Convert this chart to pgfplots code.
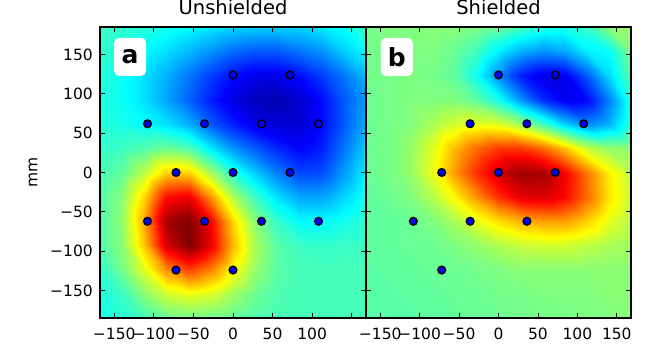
\documentclass[border=0pt]{standalone}
\usepackage{fontspec}
\setmainfont{DejaVu Sans}
\usepackage{pgfplots}
\pgfplotsset{compat=1.18}

\pgfplotsset{
  panel/.style={
    height=291pt, scale only axis,
    xmin=-168, xmax=168, ymin=-185, ymax=185,
    xtick={-150,-100,...,150}, ytick={-150,-100,...,150},
    tick align=inside, xtick pos=both, ytick pos=both,
    major tick length=5pt,
    tick style={black, line width=0.8pt},
    axis line style={black, line width=1.2pt},
    axis on top,
    colormap/jet,
    point meta min=0, point meta max=1,
    tick label style={font=\fontsize{15.5}{17}\selectfont},
    xticklabel style={inner sep=0pt, yshift=-10pt},
    yticklabel style={inner sep=0pt, xshift=-7pt},
    title style={font=\fontsize{19.5}{21}\selectfont, inner sep=0pt,
      anchor=base, at={(0.5,1)}, yshift=6.5pt},
  },
  field/.style={surf, shader=interp, mesh/cols=13, point meta=explicit},
  sensor/.style={only marks, mark=*, mark size=3.9pt,
    mark options={fill=blue, draw=black, line width=1.3pt}},
}
\tikzset{
  tag/.style={fill=white, rounded corners=5pt, minimum width=32pt,
    minimum height=38pt, inner sep=0pt,
    font=\bfseries\fontsize{25}{25}\selectfont},
}

\begin{document}
\begin{tikzpicture}
\path[use as bounding box] (0,0) rectangle (664pt,354pt);

% unshielded
\begin{axis}[panel, width=266pt, at={(100pt,36pt)}, anchor=south west,
  point meta min=-0.04,
  title={Unshielded},
  xticklabels={−150,−100,−50,0,50,100,{}},
  yticklabels={−150,−100,−50,0,50,100,150},
  ylabel={mm},
  ylabel style={font=\fontsize{15.5}{17}\selectfont,
    at={(axis description cs:-0.252,0.5)}, anchor=center},
]
\addplot[field] coordinates {
(-168,-185)[0.37] (-140,-185)[0.39] (-112,-185)[0.42] (-84,-185)[0.46] (-56,-185)[0.47] (-28,-185)[0.46] (0,-185)[0.45] (28,-185)[0.43] (56,-185)[0.42] (84,-185)[0.42] (112,-185)[0.42] (140,-185)[0.42] (168,-185)[0.42]
(-168,-154)[0.38] (-140,-154)[0.41] (-112,-154)[0.49] (-84,-154)[0.56] (-56,-154)[0.59] (-28,-154)[0.57] (0,-154)[0.51] (28,-154)[0.46] (56,-154)[0.43] (84,-154)[0.42] (112,-154)[0.42] (140,-154)[0.42] (168,-154)[0.42]
(-168,-123)[0.40] (-140,-123)[0.47] (-112,-123)[0.58] (-84,-123)[0.73] (-56,-123)[0.81] (-28,-123)[0.74] (0,-123)[0.61] (28,-123)[0.50] (56,-123)[0.44] (84,-123)[0.42] (112,-123)[0.42] (140,-123)[0.42] (168,-123)[0.42]
(-168,-92)[0.43] (-140,-92)[0.49] (-112,-92)[0.67] (-84,-92)[0.91] (-56,-92)[1.00] (-28,-92)[0.89] (0,-92)[0.68] (28,-92)[0.52] (56,-92)[0.44] (84,-92)[0.41] (112,-92)[0.40] (140,-92)[0.41] (168,-92)[0.41]
(-168,-62)[0.43] (-140,-62)[0.50] (-112,-62)[0.70] (-84,-62)[0.96] (-56,-62)[1.00] (-28,-62)[0.87] (0,-62)[0.65] (28,-62)[0.49] (56,-62)[0.40] (84,-62)[0.35] (112,-62)[0.35] (140,-62)[0.37] (168,-62)[0.40]
(-168,-31)[0.43] (-140,-31)[0.49] (-112,-31)[0.65] (-84,-31)[0.86] (-56,-31)[0.89] (-28,-31)[0.72] (0,-31)[0.53] (28,-31)[0.41] (56,-31)[0.32] (84,-31)[0.26] (112,-31)[0.26] (140,-31)[0.31] (168,-31)[0.37]
(-168,0)[0.42] (-140,0)[0.45] (-112,0)[0.54] (-84,0)[0.66] (-56,0)[0.66] (-28,0)[0.52] (0,0)[0.39] (28,0)[0.30] (56,0)[0.22] (84,0)[0.16] (112,0)[0.17] (140,0)[0.25] (168,0)[0.34]
(-168,31)[0.40] (-140,31)[0.41] (-112,31)[0.43] (-84,31)[0.46] (-56,31)[0.43] (-28,31)[0.33] (0,31)[0.24] (28,31)[0.18] (56,31)[0.13] (84,31)[0.09] (112,31)[0.12] (140,31)[0.21] (168,31)[0.30]
(-168,62)[0.39] (-140,62)[0.37] (-112,62)[0.35] (-84,62)[0.32] (-56,62)[0.27] (-28,62)[0.18] (0,62)[0.12] (28,62)[0.07] (56,62)[0.05] (84,62)[0.05] (112,62)[0.10] (140,62)[0.18] (168,62)[0.27]
(-168,92)[0.38] (-140,92)[0.36] (-112,92)[0.32] (-84,92)[0.26] (-56,92)[0.19] (-28,92)[0.12] (0,92)[0.06] (28,92)[0.02] (56,92)[0.01] (84,92)[0.04] (112,92)[0.10] (140,92)[0.18] (168,92)[0.25]
(-168,123)[0.39] (-140,123)[0.36] (-112,123)[0.32] (-84,123)[0.27] (-56,123)[0.21] (-28,123)[0.15] (0,123)[0.10] (28,123)[0.07] (56,123)[0.07] (84,123)[0.10] (112,123)[0.15] (140,123)[0.21] (168,123)[0.28]
(-168,154)[0.40] (-140,154)[0.38] (-112,154)[0.35] (-84,154)[0.32] (-56,154)[0.28] (-28,154)[0.24] (0,154)[0.20] (28,154)[0.18] (56,154)[0.18] (84,154)[0.21] (112,154)[0.24] (140,154)[0.30] (168,154)[0.35]
(-168,185)[0.41] (-140,185)[0.40] (-112,185)[0.39] (-84,185)[0.37] (-56,185)[0.35] (-28,185)[0.33] (0,185)[0.31] (28,185)[0.30] (56,185)[0.30] (84,185)[0.31] (112,185)[0.33] (140,185)[0.36] (168,185)[0.41]
};
\addplot[sensor] coordinates {
(0,124) (72,124) (-108,62) (-36,62) (36,62) (108,62) (-72,0) (0,0) (72,0)
(-108,-62) (-36,-62) (36,-62) (108,-62) (-72,-124) (0,-124)
};
\node[tag] at (axis cs:-130,147) {a};
\end{axis}

% shielded
\begin{axis}[panel, width=265pt, at={(366pt,36pt)}, anchor=south west,
  title={Shielded},
  xticklabels={−150,−100,−50,0,50,100,150},
  yticklabels={},
]
\addplot[field] coordinates {
(-168,-185)[0.46] (-140,-185)[0.46] (-112,-185)[0.46] (-84,-185)[0.47] (-56,-185)[0.47] (-28,-185)[0.48] (0,-185)[0.48] (28,-185)[0.49] (56,-185)[0.49] (84,-185)[0.49] (112,-185)[0.50] (140,-185)[0.50] (168,-185)[0.51]
(-168,-154)[0.46] (-140,-154)[0.46] (-112,-154)[0.47] (-84,-154)[0.47] (-56,-154)[0.48] (-28,-154)[0.48] (0,-154)[0.49] (28,-154)[0.49] (56,-154)[0.50] (84,-154)[0.50] (112,-154)[0.50] (140,-154)[0.51] (168,-154)[0.51]
(-168,-123)[0.46] (-140,-123)[0.47] (-112,-123)[0.47] (-84,-123)[0.48] (-56,-123)[0.48] (-28,-123)[0.49] (0,-123)[0.50] (28,-123)[0.51] (56,-123)[0.51] (84,-123)[0.51] (112,-123)[0.51] (140,-123)[0.51] (168,-123)[0.51]
(-168,-92)[0.47] (-140,-92)[0.47] (-112,-92)[0.48] (-84,-92)[0.48] (-56,-92)[0.50] (-28,-92)[0.52] (0,-92)[0.55] (28,-92)[0.57] (56,-92)[0.58] (84,-92)[0.58] (112,-92)[0.56] (140,-92)[0.54] (168,-92)[0.53]
(-168,-62)[0.47] (-140,-62)[0.47] (-112,-62)[0.48] (-84,-62)[0.50] (-56,-62)[0.54] (-28,-62)[0.60] (0,-62)[0.66] (28,-62)[0.70] (56,-62)[0.72] (84,-62)[0.72] (112,-62)[0.67] (140,-62)[0.60] (168,-62)[0.55]
(-168,-31)[0.47] (-140,-31)[0.48] (-112,-31)[0.50] (-84,-31)[0.55] (-56,-31)[0.63] (-28,-31)[0.73] (0,-31)[0.83] (28,-31)[0.90] (56,-31)[0.91] (84,-31)[0.87] (112,-31)[0.77] (140,-31)[0.65] (168,-31)[0.57]
(-168,0)[0.48] (-140,0)[0.49] (-112,0)[0.52] (-84,0)[0.60] (-56,0)[0.72] (-28,0)[0.83] (0,0)[0.92] (28,0)[0.97] (56,0)[0.96] (84,0)[0.88] (112,0)[0.76] (140,0)[0.64] (168,0)[0.56]
(-168,31)[0.48] (-140,31)[0.49] (-112,31)[0.52] (-84,31)[0.59] (-56,31)[0.69] (-28,31)[0.77] (0,31)[0.82] (28,31)[0.82] (56,31)[0.77] (84,31)[0.68] (112,31)[0.57] (140,31)[0.52] (168,31)[0.52]
(-168,62)[0.48] (-140,62)[0.49] (-112,62)[0.50] (-84,62)[0.54] (-56,62)[0.58] (-28,62)[0.60] (0,62)[0.59] (28,62)[0.53] (56,62)[0.44] (84,62)[0.33] (112,62)[0.26] (140,62)[0.30] (168,62)[0.42]
(-168,92)[0.48] (-140,92)[0.49] (-112,92)[0.50] (-84,92)[0.50] (-56,92)[0.50] (-28,92)[0.47] (0,92)[0.39] (28,92)[0.27] (56,92)[0.17] (84,92)[0.11] (112,92)[0.13] (140,92)[0.25] (168,92)[0.41]
(-168,123)[0.49] (-140,123)[0.49] (-112,123)[0.50] (-84,123)[0.49] (-56,123)[0.47] (-28,123)[0.39] (0,123)[0.26] (28,123)[0.15] (56,123)[0.10] (84,123)[0.11] (112,123)[0.21] (140,123)[0.34] (168,123)[0.46]
(-168,154)[0.49] (-140,154)[0.49] (-112,154)[0.50] (-84,154)[0.50] (-56,154)[0.48] (-28,154)[0.44] (0,154)[0.36] (28,154)[0.30] (56,154)[0.27] (84,154)[0.29] (112,154)[0.36] (140,154)[0.38] (168,154)[0.50]
(-168,185)[0.49] (-140,185)[0.50] (-112,185)[0.50] (-84,185)[0.51] (-56,185)[0.51] (-28,185)[0.50] (0,185)[0.48] (28,185)[0.44] (56,185)[0.40] (84,185)[0.40] (112,185)[0.43] (140,185)[0.51] (168,185)[0.53]
};
\addplot[sensor] coordinates {
(0,124) (72,124) (-36,62) (36,62) (108,62) (-72,0) (0,0) (72,0)
(-108,-62) (-36,-62) (36,-62) (-72,-124)
};
\node[tag] at (axis cs:-129,147) {b};
\end{axis}
\end{tikzpicture}
\end{document}
